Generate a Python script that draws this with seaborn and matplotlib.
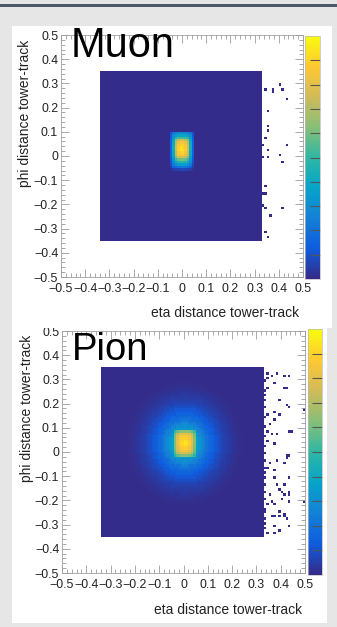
import numpy as np
import matplotlib
matplotlib.use("Agg")
import matplotlib.pyplot as plt
from matplotlib.colors import LinearSegmentedColormap
from matplotlib.patches import Rectangle
import seaborn as sns

plt.rcParams['font.family'] = ['Liberation Sans', 'DejaVu Sans']
plt.rcParams['axes.unicode_minus'] = True

# ---------------- data ----------------
tick_values = [-0.5, -0.4, -0.3, -0.2, -0.1, 0.0, 0.1, 0.2, 0.3, 0.4, 0.5]
tick_labels = ["\u22120.5", "\u22120.4", "\u22120.3", "\u22120.2", "\u22120.1", "0",
               "0.1", "0.2", "0.3", "0.4", "0.5"]

# filled square (low-count floor) extents: eta_lo, eta_hi, phi_lo, phi_hi
square_extent = [-0.34, 0.33, -0.35, 0.35]
floor_level = 0.004

# Muon core (normalised counts); rows phi 0.095 -> -0.055, cols eta -0.045 -> 0.045
muon_core_eta0 = -0.045
muon_core_phi0 = 0.095
muon_core = [
    [0.10, 0.20, 0.25, 0.28, 0.28, 0.28, 0.28, 0.25, 0.20, 0.10],
    [0.12, 0.28, 0.35, 0.38, 0.38, 0.38, 0.38, 0.35, 0.28, 0.12],
    [0.14, 0.33, 0.48, 0.52, 0.54, 0.54, 0.52, 0.48, 0.33, 0.14],
    [0.15, 0.38, 0.62, 0.72, 0.75, 0.75, 0.72, 0.62, 0.38, 0.15],
    [0.15, 0.40, 0.70, 0.82, 0.85, 0.85, 0.82, 0.70, 0.40, 0.15],
    [0.15, 0.42, 0.72, 0.85, 0.88, 0.90, 0.85, 0.72, 0.42, 0.15],
    [0.15, 0.42, 0.75, 0.88, 0.93, 0.90, 0.86, 0.74, 0.42, 0.15],
    [0.15, 0.42, 0.74, 0.90, 0.96, 0.92, 0.88, 0.74, 0.42, 0.15],
    [0.15, 0.40, 0.72, 0.86, 0.88, 0.91, 0.84, 0.72, 0.40, 0.15],
    [0.15, 0.40, 0.70, 0.84, 0.86, 0.86, 0.82, 0.70, 0.40, 0.15],
    [0.14, 0.36, 0.62, 0.74, 0.76, 0.76, 0.72, 0.62, 0.36, 0.14],
    [0.12, 0.32, 0.50, 0.58, 0.60, 0.60, 0.58, 0.50, 0.32, 0.12],
    [0.10, 0.28, 0.40, 0.46, 0.48, 0.48, 0.46, 0.40, 0.28, 0.10],
    [0.08, 0.22, 0.30, 0.35, 0.36, 0.36, 0.35, 0.30, 0.22, 0.08],
    [0.05, 0.14, 0.18, 0.20, 0.22, 0.22, 0.20, 0.18, 0.14, 0.05],
    [0.02, 0.05, 0.06, 0.07, 0.08, 0.08, 0.07, 0.06, 0.05, 0.02],
]

# Pion core; rows phi 0.085 -> -0.015, cols eta -0.035 -> 0.045
pion_core_eta0 = -0.035
pion_core_phi0 = 0.085
pion_core = [
    [0.50, 0.58, 0.62, 0.64, 0.64, 0.64, 0.62, 0.58, 0.50],
    [0.58, 0.72, 0.78, 0.80, 0.80, 0.80, 0.78, 0.72, 0.58],
    [0.60, 0.76, 0.84, 0.86, 0.87, 0.86, 0.84, 0.76, 0.60],
    [0.62, 0.78, 0.86, 0.88, 0.90, 0.88, 0.86, 0.78, 0.62],
    [0.62, 0.80, 0.87, 0.90, 0.94, 0.92, 0.87, 0.80, 0.62],
    [0.62, 0.80, 0.88, 0.92, 0.96, 0.93, 0.88, 0.80, 0.62],
    [0.62, 0.78, 0.86, 0.90, 0.92, 0.90, 0.86, 0.78, 0.62],
    [0.60, 0.77, 0.84, 0.87, 0.88, 0.87, 0.84, 0.77, 0.60],
    [0.58, 0.74, 0.80, 0.83, 0.84, 0.83, 0.80, 0.74, 0.58],
    [0.55, 0.68, 0.74, 0.76, 0.76, 0.76, 0.74, 0.68, 0.55],
    [0.48, 0.56, 0.60, 0.62, 0.62, 0.62, 0.60, 0.56, 0.48],
]

# Pion halo: level vs distance (in 0.01 steps) from the shower centre
pion_halo_centre = (0.005, 0.035)
pion_halo = [0.60, 0.56, 0.52, 0.47, 0.42, 0.37, 0.33, 0.29, 0.25, 0.21,
             0.18, 0.155, 0.13, 0.11, 0.09, 0.075, 0.062, 0.05, 0.04, 0.032,
             0.025, 0.019, 0.014, 0.01, 0.007]

# isolated low-count bins outside the square
muon_dots_eta = [0.345, 0.375, 0.375, 0.405, 0.415, 0.435, 0.355, 0.355, 0.355, 0.345,
                 0.335, 0.435, 0.355, 0.335, 0.355, 0.405, 0.415, 0.345, 0.335, 0.345,
                 0.335, 0.345, 0.415, 0.365, 0.345, 0.355]
muon_dots_phi = [0.275, 0.275, 0.265, 0.295, 0.275, 0.235, 0.185, 0.125, 0.105, 0.075,
                 0.045, 0.045, 0.025, -0.005, -0.005, 0.005, -0.025, -0.125, -0.155, -0.155,
                 -0.205, -0.215, -0.215, -0.245, -0.315, -0.335]

pion_dots_eta = [0.349, 0.363, 0.383, 0.411, 0.431, 0.349, 0.370, 0.349, 0.422, 0.3395,
                 0.3395, 0.397, 0.425, 0.431, 0.370, 0.394, 0.349, 0.370, 0.356, 0.377,
                 0.438, 0.431, 0.3395, 0.349, 0.363, 0.381, 0.349, 0.370, 0.3395, 0.431,
                 0.425, 0.411, 0.383, 0.356, 0.370, 0.349, 0.3395, 0.3395, 0.370, 0.431,
                 0.411, 0.381, 0.390, 0.408, 0.431, 0.356, 0.411, 0.431, 0.438, 0.431,
                 0.408, 0.3395, 0.363, 0.349, 0.370, 0.3395, 0.397, 0.411, 0.390, 0.363,
                 0.377, 0.411, 0.425, 0.3395, 0.370, 0.431, 0.397, 0.370, 0.349, 0.418,
                 0.442, 0.427, 0.495, 0.495, 0.335, 0.335, 0.335, 0.335, 0.335, 0.335,
                 0.335, 0.335, 0.335, 0.335, 0.335, 0.335, 0.335]
pion_dots_phi = [0.324, 0.311, 0.324, 0.315, 0.315, 0.301, 0.281, 0.267, 0.267, 0.239,
                 0.212, 0.212, 0.198, 0.184, 0.164, 0.157, 0.150, 0.137, 0.119, 0.130,
                 0.086, 0.086, 0.102, 0.081, 0.075, 0.075, 0.044, 0.036, -0.001, -0.014,
                 -0.028, -0.042, -0.035, -0.049, -0.076, -0.069, -0.090, -0.110, -0.106, -0.106,
                 -0.138, -0.138, -0.151, -0.161, -0.161, -0.172, -0.179, -0.179, -0.207, -0.207,
                 -0.193, -0.193, -0.207, -0.220, -0.216, -0.248, -0.241, -0.254, -0.265, -0.265,
                 -0.268, -0.268, -0.274, -0.295, -0.302, -0.307, -0.326, -0.337, -0.340, 0.267,
                 0.086, -0.014, 0.175, -0.210, 0.295, 0.255, 0.185, 0.145, 0.065, 0.025,
                 -0.035, -0.065, -0.135, -0.165, -0.235, -0.275, -0.315]

# ROOT kBird palette
bird_colors = [(0.2082, 0.1664, 0.5293), (0.0592, 0.3599, 0.8684), (0.0780, 0.5041, 0.8385),
               (0.0232, 0.6419, 0.7914), (0.1802, 0.7178, 0.6425), (0.5301, 0.7492, 0.4662),
               (0.8186, 0.7328, 0.3499), (0.9956, 0.7862, 0.1968), (0.9764, 0.9832, 0.0539)]
bird = LinearSegmentedColormap.from_list("bird", bird_colors)

NB = 100
centres = np.round(-0.5 + 0.005 + 0.01 * np.arange(NB), 4)


def idx(v):
    return int(np.clip(np.floor((v + 0.5) / 0.01 + 1e-9), 0, NB - 1))


def build(core, eta0, phi0, dots_eta, dots_phi, halo=None, halo_c=None):
    H = np.zeros((NB, NB))  # [eta, phi]
    e0, e1, p0, p1 = square_extent
    i0, i1 = idx(e0 + 0.001), idx(e1 - 0.001)
    j0, j1 = idx(p0 + 0.001), idx(p1 - 0.001)
    H[i0:i1 + 1, j0:j1 + 1] = floor_level
    if halo is not None:
        for i in range(i0, i1 + 1):
            for j in range(j0, j1 + 1):
                d = np.hypot(centres[i] - halo_c[0], (centres[j] - halo_c[1]) * 0.92)
                k = int(round(d / 0.01))
                if k < len(halo):
                    H[i, j] = max(H[i, j], halo[k])
    for r, row in enumerate(core):
        for c, v in enumerate(row):
            H[idx(eta0 + 0.01 * c), idx(phi0 - 0.01 * r)] = v
    for e, p in zip(dots_eta, dots_phi):
        H[idx(e), idx(p)] = floor_level
    ii, jj = np.nonzero(H)
    return centres[ii], centres[jj], H[ii, jj]


W, Hh = 337, 627
fig = plt.figure(figsize=(W / 100, Hh / 100), dpi=100)
fig.patch.set_facecolor('#e6e6e6')


def fx(x):
    return x / W


def fy(y):
    return 1 - y / Hh


# panels
fig.patches.append(Rectangle((fx(0), fy(6.5)), 1, 2.5 / Hh, transform=fig.transFigure,
                             facecolor='#4b586c', edgecolor='none', zorder=-3))
fig.patches.append(Rectangle((fx(12), fy(328)), (332 - 12) / W, (328 - 26) / Hh,
                             transform=fig.transFigure, facecolor='white', edgecolor='none', zorder=-3))
fig.patches.append(Rectangle((fx(12), fy(623)), (327 - 12) / W, (623 - 328) / Hh,
                             transform=fig.transFigure, facecolor='white', edgecolor='none', zorder=-3))


def draw_panel(ax_box, cax_box, data, name, name_xy, name_size, ylab_xy, xlab_xy):
    ax = fig.add_axes([fx(ax_box[0]), fy(ax_box[3]), (ax_box[2] - ax_box[0]) / W,
                       (ax_box[3] - ax_box[1]) / Hh])
    cax = fig.add_axes([fx(cax_box[0]), fy(cax_box[3]), (cax_box[2] - cax_box[0]) / W,
                        (cax_box[3] - cax_box[1]) / Hh])
    xs, ys, ws = data
    sns.histplot(x=xs, y=ys, weights=ws, bins=NB, binrange=((-0.5, 0.5), (-0.5, 0.5)),
                 cmap=bird, vmin=0, vmax=1, cbar=True, cbar_ax=cax, ax=ax)
    ax.set_xlim(-0.5, 0.5)
    ax.set_ylim(-0.5, 0.5)
    ax.set_facecolor('none')
    ax.set_xlabel("")
    ax.set_ylabel("")
    ax.set_xticks(tick_values)
    ax.set_xticklabels(tick_labels)
    ax.set_yticks(tick_values)
    ax.set_yticklabels(tick_labels)
    ax.set_xticks(np.round(np.arange(-0.5, 0.501, 0.02), 3), minor=True)
    ax.set_yticks(np.round(np.arange(-0.5, 0.501, 0.02), 3), minor=True)
    ax.tick_params(which='both', direction='in', top=True, right=True, color='#9a9a9a',
                   width=0.6, labelsize=8.9, labelcolor='#222222')
    ax.tick_params(which='major', length=6)
    ax.tick_params(axis='y', which='major', pad=2)
    ax.tick_params(axis='x', which='major', pad=4.5)
    ax.tick_params(which='minor', length=3)
    for s in ax.spines.values():
        s.set_color('#a0a0a0')
        s.set_linewidth(0.6)
    cax.set_yticks([0.1, 0.2, 0.3, 0.4, 0.5, 0.6, 0.7, 0.8, 0.9])
    cax.set_yticklabels([])
    cax.tick_params(which='both', direction='in', right=True, left=False, length=7,
                    width=0.8, color='#555555')
    cax.minorticks_off()
    for s in cax.spines.values():
        s.set_color('#bbbbbb')
        s.set_linewidth(0.5)
    fig.text(fx(name_xy[0]), fy(name_xy[1]), name, fontsize=name_size, ha='left',
             va='baseline', color='black', zorder=6)
    fig.text(fx(ylab_xy[0]), fy(ylab_xy[1]), "phi distance tower-track", rotation=90,
             ha='center', va='top', fontsize=10, color='#222222')
    fig.text(fx(xlab_xy[0]), fy(xlab_xy[1]), "eta distance tower-track",
             ha='right', va='center', fontsize=10, color='#222222')
    return ax


muon_data = build(muon_core, muon_core_eta0, muon_core_phi0, muon_dots_eta, muon_dots_phi)
pion_data = build(pion_core, pion_core_eta0, pion_core_phi0, pion_dots_eta, pion_dots_phi,
                  halo=pion_halo, halo_c=pion_halo_centre)

draw_panel((61, 35, 303, 277), (305, 36, 320, 279), muon_data, "Muon", (71, 57), 30,
           (25, 40), (299, 313))
draw_panel((62, 331, 305, 573), (308, 329, 322, 575), pion_data, "Pion", (72, 360), 27.5,
           (27, 335), (302, 610))

# the lower chart is cropped at its top edge
fig.patches.append(Rectangle((fx(12), fy(328)), (327 - 12) / W, (328 - 321) / Hh,
                             transform=fig.transFigure, facecolor='white', edgecolor='none', zorder=5))

fig.savefig("out.png", dpi=100, facecolor=fig.get_facecolor())
